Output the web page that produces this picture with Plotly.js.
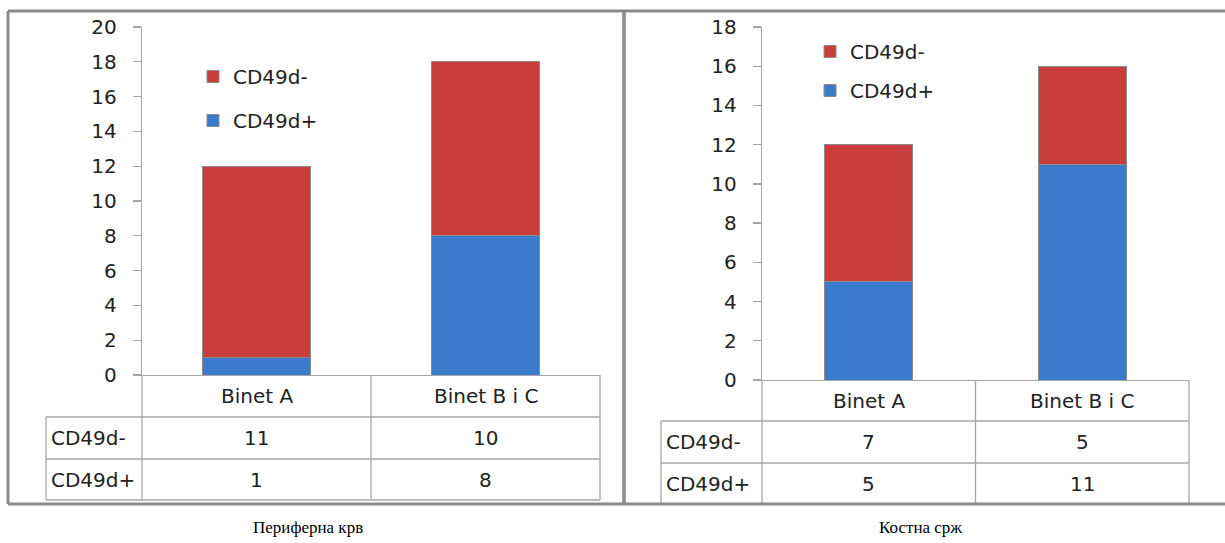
<!DOCTYPE html>
<html>
<head>
<meta charset="utf-8">
<script src="https://cdn.plot.ly/plotly-3.0.1.min.js"></script>
<style>
  html, body { margin: 0; padding: 0; background: #ffffff; }
  #chart { width: 1225px; height: 543px; }
</style>
</head>
<body>
<div id="chart"></div>
<script>
// ---------- data ----------
const categories = ['Binet A', 'Binet B i C'];
const seriesNames = ['CD49d-', 'CD49d+'];
const bloodNeg = [11, 10];
const bloodPos = [1, 8];
const marrowNeg = [7, 5];
const marrowPos = [5, 11];
const panelCaptions = ['Периферна крв', 'Костна срж'];

// ---------- styling helpers ----------
const W = 1225, H = 543;
const px = v => v / W;          // pixel -> paper x
const py = v => 1 - v / H;      // pixel -> paper y
const RED = '#c93d3d';
const BLUE = '#3c7bcb';
const GRID = '#a6a6a6';
const BORDER = '#8a8a8a';
const FONT = 'DejaVu Sans, Liberation Sans, sans-serif';
const TXT = '#222222';
const FS = 20;

function barTrace(y, name, color, xa, ya, legend, rank, width) {
  return {
    type: 'bar', x: categories, y: y, name: name,
    xaxis: xa, yaxis: ya, legend: legend, legendgroup: name, legendrank: rank,
    width: width,
    marker: { color: color, line: { color: '#8c8c8c', width: 1 } },
    hoverinfo: 'skip'
  };
}

const traces = [
  barTrace(bloodPos, seriesNames[1], BLUE, 'x', 'y', 'legend', 2, 0.47),
  barTrace(bloodNeg, seriesNames[0], RED, 'x', 'y', 'legend', 1, 0.47),
  barTrace(marrowPos, seriesNames[1], BLUE, 'x2', 'y2', 'legend2', 2, 0.41),
  barTrace(marrowNeg, seriesNames[0], RED, 'x2', 'y2', 'legend2', 1, 0.41)
];

// ---------- table geometry (pixels) ----------
const panels = [
  { xa: 'x', left: 46, axis: 142, right: 600, rows: [375, 417, 459, 500], neg: bloodNeg, pos: bloodPos, cx: 308 },
  { xa: 'x2', left: 661, axis: 762, right: 1189, rows: [380, 421, 463, 504], neg: marrowNeg, pos: marrowPos, cx: 920 }
];

const shapes = [];
const annotations = [];
const line = (x0, y0, x1, y1, color, w) => shapes.push({
  type: 'line', xref: 'paper', yref: 'paper',
  x0: px(x0), y0: py(y0), x1: px(x1), y1: py(y1),
  line: { color: color, width: w }, layer: 'above'
});

panels.forEach(p => {
  const r = p.rows;
  const mid = (p.axis + p.right) / 2;
  // horizontal lines
  line(p.left, r[1], p.right, r[1], GRID, 1.3);
  line(p.left, r[2], p.right, r[2], GRID, 1.3);
  line(p.left, r[3], p.right, r[3], GRID, 1.3);
  // verticals
  line(p.axis, r[0], p.axis, r[3], GRID, 1.3);
  line(mid, r[0], mid, r[3], GRID, 1.3);
  line(p.right, r[0], p.right, r[3], GRID, 1.3);
  line(p.left, r[1], p.left, r[3], GRID, 1.3);

  const font = { family: FONT, size: FS, color: TXT };
  // header row: category names
  categories.forEach((c, i) => annotations.push({
    xref: p.xa, yref: 'paper', x: i, y: py((r[0] + r[1]) / 2),
    text: c, showarrow: false, font: font, xanchor: 'center', yanchor: 'middle'
  }));
  // row labels and values
  [[seriesNames[0], p.neg, (r[1] + r[2]) / 2], [seriesNames[1], p.pos, (r[2] + r[3]) / 2]].forEach(row => {
    annotations.push({
      xref: 'paper', yref: 'paper', x: px(p.left + 3), y: py(row[2]),
      text: row[0], showarrow: false, font: font, xanchor: 'left', yanchor: 'middle'
    });
    row[1].forEach((v, i) => annotations.push({
      xref: p.xa, yref: 'paper', x: i, y: py(row[2]),
      text: String(v), showarrow: false, font: font, xanchor: 'center', yanchor: 'middle'
    }));
  });
});

// captions
panelCaptions.forEach((c, i) => annotations.push({
  xref: 'paper', yref: 'paper', x: px(panels[i].cx), y: py(527),
  text: c, showarrow: false, xanchor: 'center', yanchor: 'middle',
  font: { family: 'Liberation Serif, Times New Roman, serif', size: 17, color: '#000' }
}));

// panel borders
line(8, 11, 1225, 11, BORDER, 3);
line(8, 504, 1225, 504, BORDER, 3);
line(8, 11, 8, 504, BORDER, 3);
line(624, 11, 624, 504, BORDER, 3.5);

const yaxisBase = {
  showgrid: false, zeroline: false, showline: true, linecolor: GRID, linewidth: 1.3,
  ticks: 'outside', ticklen: 8, tickcolor: GRID, tickwidth: 1.3, dtick: 2,
  tickfont: { family: FONT, size: FS, color: TXT }, ticklabelstandoff: 12, fixedrange: true
};
const xaxisBase = {
  showgrid: false, zeroline: false, showline: true, linecolor: GRID, linewidth: 1.3,
  ticks: '', showticklabels: false, range: [-0.5, 1.5], fixedrange: true
};
const legendBase = {
  xanchor: 'left', yanchor: 'top', bgcolor: 'rgba(0,0,0,0)',
  font: { family: FONT, size: FS, color: TXT },
  traceorder: 'grouped', itemclick: false, itemdoubleclick: false
};

const layout = {
  width: W, height: H,
  margin: { l: 0, r: 0, t: 0, b: 0 },
  paper_bgcolor: '#ffffff', plot_bgcolor: 'rgba(0,0,0,0)',
  barmode: 'stack',
  xaxis: Object.assign({}, xaxisBase, { domain: [px(142), px(600)], anchor: 'y' }),
  yaxis: Object.assign({}, yaxisBase, { domain: [py(375), py(27)], range: [0, 20], anchor: 'x' }),
  xaxis2: Object.assign({}, xaxisBase, { domain: [px(762), px(1189)], anchor: 'y2' }),
  yaxis2: Object.assign({}, yaxisBase, { domain: [py(380), py(27)], range: [0, 18], anchor: 'x2' }),
  legend: Object.assign({}, legendBase, { x: px(193), y: py(57), tracegroupgap: 15 }),
  legend2: Object.assign({}, legendBase, { x: px(810), y: py(32), tracegroupgap: 10 }),
  shapes: shapes,
  annotations: annotations,
  showlegend: true
};

Plotly.newPlot('chart', traces, layout, { displayModeBar: false, staticPlot: true });
</script>
</body>
</html>
